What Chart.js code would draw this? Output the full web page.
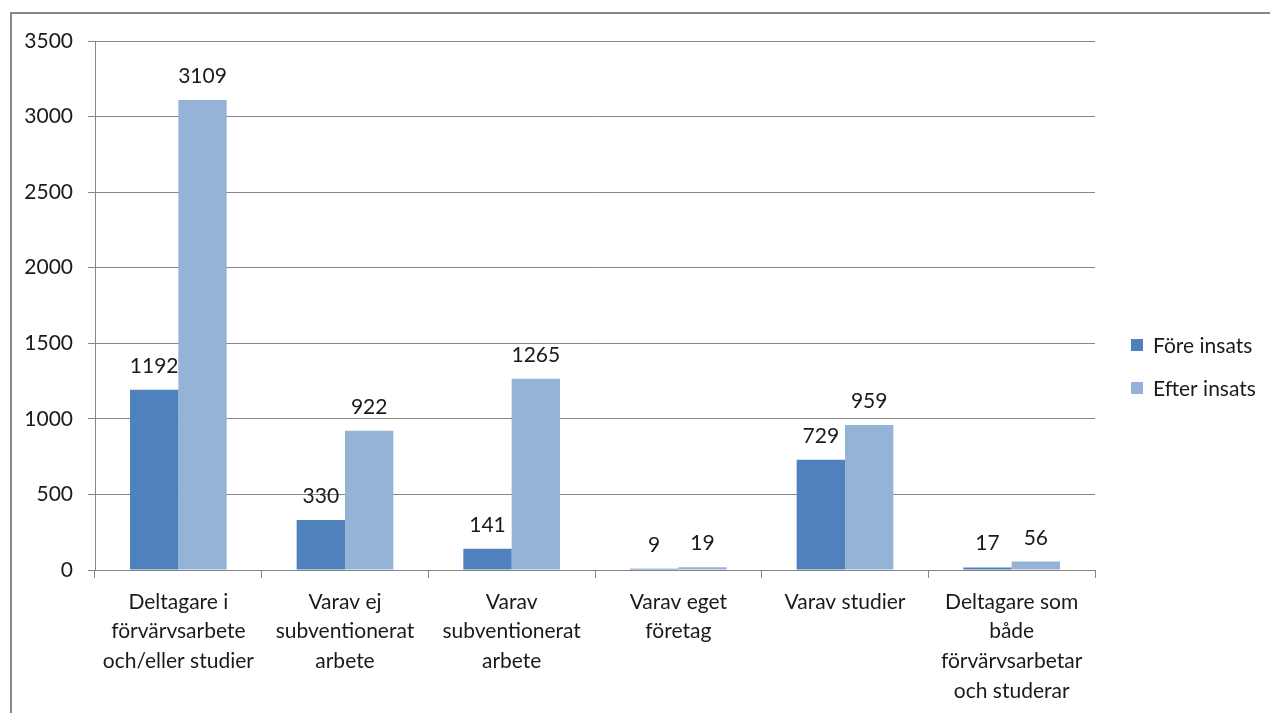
<!DOCTYPE html>
<html>
<head>
<meta charset="utf-8">
<script src="https://cdn.jsdelivr.net/npm/chart.js@4.4.1/dist/chart.umd.min.js"></script>
<style>
  html, body { margin: 0; padding: 0; background: #fff; overflow: hidden; }
  #frame { position: absolute; left: 10px; top: 12px; width: 1400px; height: 900px; border: 2px solid #868686; }
  #wrap { position: absolute; left: 0; top: 0; width: 1270px; height: 713px; }
</style>
</head>
<body>
<div id="frame"></div>
<div id="wrap"><canvas id="chart" width="1270" height="713"></canvas></div>
<script>
// categories (multi-line, as in the source chart)
const categories = [
    ['Deltagare i', 'förvärvsarbete', 'och/eller studier'],
    ['Varav ej', 'subventionerat', 'arbete'],
    ['Varav', 'subventionerat', 'arbete'],
    ['Varav eget', 'företag'],
    ['Varav studier'],
    ['Deltagare som', 'både', 'förvärvsarbetar', 'och studerar'],
];
const seriesNames = ['Före insats', 'Efter insats'];
const foreValues = [1192, 330, 141, 9, 729, 17];
const efterValues = [3109, 922, 1265, 19, 959, 56];
const yMax = 3500;
const yStep = 500;

const colors = ['#4f81bd', '#95b3d7'];
const gridColor = '#868686';
const textColor = '#1a1a1a';
const font = { family: 'Lato', size: 21 };

// value labels above each bar
const valueLabels = {
    id: 'valueLabels',
    afterDatasetsDraw(chart) {
        const ctx = chart.ctx;
        ctx.save();
        ctx.font = `${font.size}px ${font.family}`;
        ctx.fillStyle = textColor;
        ctx.textAlign = 'center';
        ctx.textBaseline = 'alphabetic';
        chart.data.datasets.forEach((ds, i) => {
            const meta = chart.getDatasetMeta(i);
            meta.data.forEach((bar, j) => {
                ctx.fillText(String(ds.data[j]), bar.x, bar.y - 17);
            });
        });
        ctx.restore();
    },
};

// legend on the right, drawn like the office one
const sideLegend = {
    id: 'sideLegend',
    afterDraw(chart) {
        const ctx = chart.ctx;
        const area = chart.chartArea;
        const x = area.right + 36;
        let y = area.top + 304;
        ctx.save();
        ctx.font = `${font.size}px ${font.family}`;
        ctx.textBaseline = 'middle';
        ctx.textAlign = 'left';
        chart.data.datasets.forEach((ds) => {
            ctx.fillStyle = ds.backgroundColor;
            ctx.fillRect(x, y - 6, 12, 12);
            ctx.fillStyle = textColor;
            ctx.fillText(ds.label, x + 22, y + 1);
            y += 43;
        });
        ctx.restore();
    },
};

new Chart(document.getElementById('chart'), {
    type: 'bar',
    data: {
        labels: categories,
        datasets: [
            { label: seriesNames[0], data: foreValues, backgroundColor: colors[0] },
            { label: seriesNames[1], data: efterValues, backgroundColor: colors[1] },
        ],
    },
    options: {
        responsive: false,
        animation: false,
        devicePixelRatio: 1,
        categoryPercentage: 0.58,
        barPercentage: 1,
        layout: { padding: { left: 0, top: 41, right: 175, bottom: 0 } },
        plugins: {
            legend: { display: false },
            tooltip: { enabled: false },
        },
        scales: {
            x: {
                offset: true,
                grid: {
                    display: true,
                    offset: true,
                    drawOnChartArea: false,
                    drawTicks: true,
                    tickLength: 8,
                    color: gridColor,
                },
                border: { display: true, color: gridColor },
                ticks: {
                    font: { family: font.family, size: font.size, lineHeight: 1.42 },
                    color: textColor,
                    maxRotation: 0,
                    minRotation: 0,
                    autoSkip: false,
                    padding: 9,
                },
                afterFit: (scale) => { scale.height = 143; },
            },
            y: {
                min: 0,
                max: yMax,
                grid: { color: gridColor, tickLength: 7 },
                border: { display: true, color: gridColor },
                ticks: {
                    stepSize: yStep,
                    font: font,
                    color: textColor,
                    padding: 15,
                    callback: (v) => String(v),
                },
                afterFit: (scale) => { scale.width = 95; },
            },
        },
    },
    plugins: [valueLabels, sideLegend],
});
</script>
</body>
</html>
